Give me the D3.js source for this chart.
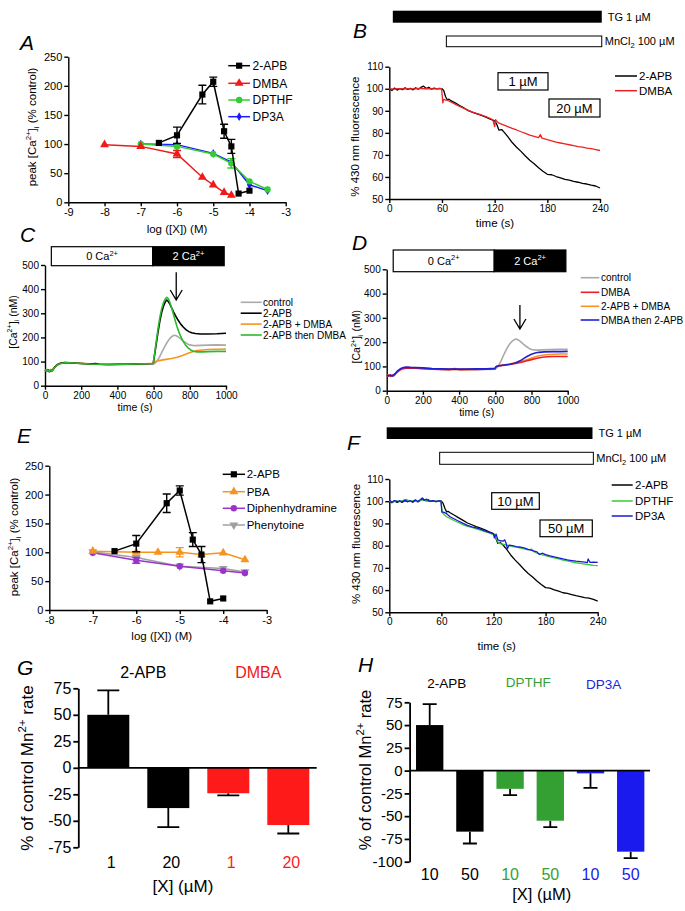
<!DOCTYPE html>
<html><head><meta charset="utf-8">
<script src="https://cdn.jsdelivr.net/npm/d3@7"></script>
<style>body{margin:0;background:#fff}svg{display:block;font-family:"Liberation Sans",Arial,sans-serif}</style>
</head><body><svg id="fig" width="685" height="911"></svg>
<script>
// ---------------- DATA ----------------
// Panel A: [log conc, peak %, sem]
const A_2APB  = [[-6.5,102,0],[-6,115,14],[-5.3,185,16],[-5,207,8],[-4.7,122,12],[-4.5,96,12],[-4.3,15,0],[-4,20,0]];
const A_DMBA  = [[-8,99,0],[-7,96,0],[-6,83,6],[-5.3,43,0],[-5,30,0],[-4.7,17,0],[-4.5,12,0]];
const A_DPTHF = [[-7,100,0],[-6,96,0],[-5,83,0],[-4.5,67,8],[-4,36,0],[-3.5,22,0]];
const A_DP3A  = [[-7,100,0],[-6,99,0],[-5,84,0],[-4.5,69,0],[-4,30,0],[-3.5,20,0]];
const A_xTicks = [-9,-8,-7,-6,-5,-4,-3];
const A_yTicks = [0,50,100,150,200,250];
const A_names = ['2-APB','DMBA','DPTHF','DP3A'];

// Panel E
const E_2APB = [[-6.5,102,0],[-6,115,14],[-5.3,185,16],[-5,207,8],[-4.7,122,12],[-4.5,96,14],[-4.3,15,0],[-4,20,0]];
const E_PBA  = [[-7,102,0],[-6,100,0],[-5.5,100,0],[-5,100,8],[-4.5,96,0],[-4,99,0],[-3.5,87,0]];
const E_DIPH = [[-7,99,0],[-6,86,5],[-5,76,0],[-4,68,0],[-3.5,64,0]];
const E_PHEN = [[-7,101,0],[-6,91,0],[-5,76,0],[-4,72,0],[-3.5,66,0]];
const E_xTicks = [-8,-7,-6,-5,-4,-3];
const E_yTicks = [0,50,100,150,200,250];
const E_names = ['2-APB','PBA','Diphenhydramine','Phenytoine'];

// Panel B / F : [time s, % 430 nm fluorescence]
const B_2APB = [[0,100],[3,99.2],[6,100.3],[9,99.4],[12,100.1],[15,99.6],[18,100.4],[21,99.7],[24,100.2],[27,99.5],[30,100.4],[33,99.8],[36,100.6],[39,101.2],[42,100.1],[45,100.7],[48,99.8],[51,100.3],[54,99.9],[57,100.2],[60,100],[62,99.2],[64,96.5],[66,95],[68,95.3],[70,94.6],[75,93.6],[80,92.4],[85,91.3],[90,90.1],[95,89.3],[100,88.6],[105,87.9],[110,87.1],[115,86.2],[120,85.4],[122,84.2],[125,81.2],[128,81.5],[131,80.2],[135,78.3],[140,75.6],[145,73.5],[150,71.6],[155,69.5],[160,67.6],[165,66],[170,64.2],[175,62.6],[180,61.2],[185,61],[190,60.2],[195,59.6],[200,58.9],[205,58.6],[210,58],[215,57.6],[220,57.1],[225,56.8],[230,56.3],[235,55.9],[240,55]];
const B_DMBA = [[0,100],[5,99.8],[10,100.1],[15,99.9],[20,100.1],[25,99.9],[30,100],[35,100.2],[40,100],[45,100.1],[50,99.9],[55,100],[59.5,100],[60,98],[61,93.6],[62,95.2],[64,94.9],[66,94.8],[70,94],[75,93],[80,92],[85,91.1],[90,90.2],[95,89.4],[100,88.7],[105,88.1],[110,87.4],[115,86.5],[118,85.9],[119,84.2],[120,82.8],[121,86],[123,85],[125,84.4],[130,83.6],[135,82.8],[140,82],[145,81.3],[150,80.5],[155,79.8],[160,79],[165,78.4],[170,77.8],[172,79.2],[174,77.6],[180,76.9],[185,76.4],[190,75.8],[195,75.4],[200,75],[205,74.6],[210,74.2],[215,73.8],[220,73.5],[225,73.1],[230,72.8],[235,72.4],[240,72]];
const F_2APB = [[0,100.2],[3,99.3],[6,100.2],[9,99.5],[12,100],[15,99.5],[18,100.3],[21,99.8],[24,100.1],[27,99.6],[30,100.3],[33,99.7],[36,100.5],[39,101],[42,100.2],[45,100.6],[48,99.9],[51,100.2],[54,99.8],[57,100.1],[60,100],[62,99],[64,96.8],[66,95.2],[68,95.4],[70,94.8],[75,93.7],[80,92.5],[85,91.4],[90,90.2],[95,89.4],[100,88.6],[105,87.9],[110,87.1],[115,86.2],[120,85.4],[122,84],[125,81],[128,81.3],[131,80.3],[135,78.4],[140,75.7],[145,73.5],[150,71.5],[155,69.4],[160,67.5],[165,65.9],[170,64.1],[175,62.5],[180,61.1],[185,60.9],[190,60.1],[195,59.5],[200,58.8],[205,58.5],[210,58],[215,57.5],[220,57.1],[225,56.6],[230,56.4],[235,55.8],[240,55]];
const F_DPTHF = [[0,100],[4,99.6],[8,100.2],[12,99.8],[16,100.4],[20,100.8],[24,99.9],[28,100.3],[32,99.8],[36,100.4],[40,100.6],[44,100],[48,100.3],[52,99.9],[56,100.2],[59.5,100],[61,95],[63,94],[66,93],[70,92.2],[75,91.2],[80,90.3],[85,89.4],[90,88.7],[95,88.2],[100,87.6],[105,87],[110,86.3],[115,85.7],[120,85],[122,84],[124,82.5],[126,81],[130,80.7],[134,80.4],[138,80],[142,79.6],[146,79.4],[150,79],[155,78.6],[160,78.1],[164,78.4],[166,77.4],[170,76.6],[175,76],[180,75.5],[185,75],[190,74.5],[195,74],[200,73.5],[205,73.1],[210,72.7],[215,72.3],[220,72],[225,71.7],[230,71.4],[235,71.1],[240,71]];
const F_DP3A = [[0,100.5],[3,99.5],[6,100.3],[9,99.8],[12,100.2],[15,99.6],[18,100.5],[21,99.8],[24,100.2],[27,99.7],[30,100.6],[33,99.9],[36,100.8],[38,101.5],[40,100.4],[43,100.9],[46,99.9],[50,100.3],[54,99.8],[57,100.1],[59.5,100],[60.5,95.2],[63,95],[66,94.4],[70,93],[75,92],[80,91],[85,90],[90,89.1],[95,88.5],[100,88],[105,87.4],[110,86.6],[115,86],[120,85.3],[121,83.5],[123,85.2],[125,82.6],[128,82.2],[131,82],[133,82.6],[135,80.5],[136,78.6],[138,80.2],[142,80],[146,79.6],[150,79.4],[155,79],[160,78.3],[165,77.8],[170,77.2],[173,76],[176,76.6],[180,76],[185,75.4],[190,74.9],[195,74.5],[200,74],[205,73.6],[210,73.3],[215,73],[220,72.8],[225,72.6],[228,72.4],[229,74],[231,72.5],[235,72.6],[240,72.5]];
const BF_xTicks = [0,60,120,180,240];
const BF_yTicks = [50,60,70,80,90,100,110];
const B_names = ['2-APB','DMBA'];
const F_names = ['2-APB','DPTHF','DP3A'];
const B_boxes = ['1 \u00b5M','20 \u00b5M'];
const F_boxes = ['10 \u00b5M','50 \u00b5M'];
const TG_span = [4,242];       // time (s)
const Mn_span_B = [65,242];
const TG_span_F = [-3,234];
const Mn_span_F = [58,235];

// Panels C / D : [time s, [Ca2+]i nM]
const C_control = [[0,62],[8,66],[16,60],[24,64],[32,58],[40,66],[50,72],[60,80],[75,88],[90,92],[110,94],[130,94],[160,93],[200,92],[250,90],[300,88],[350,87],[400,87],[450,88],[500,88],[550,89],[600,90],[615,98],[630,115],[645,138],[660,160],[675,180],[690,196],[705,206],[715,209],[725,207],[740,200],[755,191],[770,182],[785,174],[800,169],[815,167],[830,166],[860,167],[900,168],[950,169],[1000,168]];
const C_2APB = [[0,64],[8,60],[16,67],[24,58],[32,65],[40,62],[50,73],[60,82],[75,90],[90,94],[110,96],[130,95],[160,94],[200,92],[250,90],[280,92],[300,89],[350,88],[400,89],[450,89],[500,90],[550,91],[598,92],[606,130],[615,175],[625,225],[635,270],[645,305],[655,330],[665,348],[672,355],[680,350],[690,338],[700,322],[710,306],[720,291],[735,272],[750,255],[765,242],[780,231],[795,224],[810,219],[830,216],[860,214],[900,214],[950,215],[1000,217]];
const C_2APBplusDMBA = [[0,63],[10,61],[20,66],[30,60],[40,65],[50,74],[60,83],[75,90],[90,95],[110,96],[130,96],[160,94],[200,93],[250,91],[300,89],[350,89],[400,89],[450,89],[500,90],[550,91],[598,93],[610,100],[630,104],[660,108],[700,113],[730,118],[760,125],[790,134],[815,141],[840,146],[870,148],[900,150],[950,151],[1000,152]];
const C_2APBthenDMBA = [[0,65],[8,59],[16,66],[24,58],[32,67],[40,61],[50,72],[60,81],[75,89],[90,93],[110,95],[130,95],[160,94],[200,92],[250,90],[300,89],[350,88],[400,88],[450,89],[500,90],[550,91],[598,92],[606,135],[615,185],[625,240],[635,285],[645,320],[655,345],[665,360],[673,366],[680,362],[690,345],[700,322],[710,295],[720,268],[730,243],[740,222],[750,204],[760,188],[775,170],[790,157],[805,148],[820,143],[840,140],[870,140],[900,141],[950,142],[1000,142]];
const D_control = [[0,63],[10,66],[20,61],[30,65],[40,64],[50,71],[60,79],[75,87],[90,92],[110,94],[130,94],[160,93],[200,92],[250,90],[300,88],[350,87],[400,86],[450,87],[500,87],[550,88],[600,89],[615,100],[630,120],[645,145],[660,168],[675,188],[690,202],[705,210],[715,213],[725,210],[740,202],[755,192],[770,183],[785,175],[800,170],[815,168],[830,167],[860,168],[900,169],[950,170],[1000,170]];
const D_DMBA = [[0,60],[10,64],[20,59],[30,63],[40,62],[50,70],[60,78],[75,86],[90,91],[110,93],[130,94],[160,93],[200,91],[250,89],[300,88],[350,87],[375,91],[400,87],[450,88],[500,88],[550,89],[598,90],[605,99],[620,102],[650,105],[680,108],[710,112],[740,116],[770,122],[800,128],[830,134],[860,138],[890,140],[920,141],[960,141],[1000,141]];
const D_2APBplusDMBA = [[0,62],[10,60],[20,64],[30,61],[40,63],[50,71],[60,80],[75,88],[90,93],[110,95],[130,95],[160,94],[200,92],[250,90],[300,89],[350,88],[400,88],[450,88],[500,89],[550,90],[598,91],[610,102],[640,106],[670,109],[700,113],[730,118],[760,124],[790,132],[820,140],[850,145],[880,148],[920,150],[960,151],[1000,151]];
const D_DMBAthen2APB = [[0,64],[10,61],[20,65],[30,60],[40,66],[50,73],[60,82],[75,90],[90,95],[110,97],[130,96],[160,95],[200,94],[250,91],[300,90],[350,89],[400,89],[450,89],[500,90],[550,90],[598,92],[605,100],[620,103],[650,106],[680,109],[710,114],[740,124],[760,134],[780,143],[800,150],[820,155],[840,158],[870,160],[920,161],[960,161],[1000,162]];
const CD_xTicks = [0,200,400,600,800,1000];
const CD_yTicks = [0,100,200,300,400,500];
const C_names = ['control','2-APB','2-APB + DMBA','2-APB then DMBA'];
const D_names = ['control','DMBA','2-APB + DMBA','DMBA then 2-APB'];
const C_bath = [[35,595],[595,990]];   // time spans of 0 Ca / 2 Ca
const D_bath = [[36,594],[594,990]];
const C_arrow = [725,470,355];         // time, from, to (nM)
const D_arrow = [736,353,254];

// Panels G / H
const G_cats = ['1','20','1','20'];
const G_vals = [50,-38,-24,-54];
const G_errs = [23,18,2,8];
const G_groups = ['2-APB','DMBA'];
const G_yTicks = [-75,-50,-25,0,25,50,75];
const H_cats = ['10','50','10','50','10','50'];
const H_vals = [50,-67,-20,-55,-3,-89];
const H_errs = [23,13,7,7,16,7];
const H_groups = ['2-APB','DPTHF','DP3A'];
const H_yTicks = [-100,-75,-50,-25,0,25,50,75];

// ---------------- DRAWING ----------------
const FONT = '"Liberation Sans", Arial, sans-serif';
const svg = d3.select('#fig');
svg.append('rect').attr('width',685).attr('height',911).attr('fill','#fff');

function rich(g, x, y, parts, o) {
  const fs = o.fs;
  const t = g.append('text').attr('x',x).attr('y',y).attr('font-size',fs)
    .attr('font-family',FONT).attr('text-anchor',o.anchor||'start').attr('fill',o.fill||'#000');
  if (o.rotate) t.attr('transform',`rotate(-90,${x},${y})`);
  let shift = 0;
  parts.forEach(p => {
    const s = typeof p === 'string' ? {t:p} : p;
    const target = s.sup ? -0.42*fs : s.sub ? 0.28*fs : 0;
    const ts = t.append('tspan').attr('dy', target - shift).text(s.t);
    if (s.sup || s.sub) ts.attr('font-size', fs*0.68);
    shift = target;
  });
  return t;
}
function styleAxis(a, fs) {
  a.select('.domain').attr('stroke','#000').attr('stroke-width',1.4);
  a.selectAll('.tick line').attr('stroke','#000').attr('stroke-width',1.4);
  a.selectAll('.tick text').attr('fill','#000').attr('font-size',fs).attr('font-family',FONT);
}
function axes(g, x, y, xt, yt, fs) {
  const fmt = d => String(d);
  const ax = g.append('g').attr('transform',`translate(0,${y.range()[0]})`)
    .call(d3.axisBottom(x).tickValues(xt).tickSize(4).tickSizeOuter(0).tickPadding(2).tickFormat(fmt));
  styleAxis(ax, fs);
  const ay = g.append('g').attr('transform',`translate(${x.range()[0]},0)`)
    .call(d3.axisLeft(y).tickValues(yt).tickSize(4).tickSizeOuter(0).tickPadding(2).tickFormat(fmt));
  styleAxis(ay, fs);
}
function letter(x, y, L) {
  svg.append('text').attr('x',x).attr('y',y).attr('font-size',21).attr('font-style','italic')
    .attr('font-family',FONT).text(L);
}
const symTri = d3.symbol().type(d3.symbolTriangle);
function marker(g, type, cx, cy, color) {
  let path, rot = 0;
  if (type==='square') path = d3.symbol().type(d3.symbolSquare).size(38)();
  else if (type==='triangle') path = d3.symbol().type(d3.symbolTriangle).size(34)();
  else if (type==='tridown') { path = d3.symbol().type(d3.symbolTriangle).size(34)(); rot = 180; }
  else if (type==='circle') path = d3.symbol().type(d3.symbolCircle).size(32)();
  else path = d3.symbol().type(d3.symbolDiamond).size(22)();
  g.append('path').attr('d',path).attr('fill',color)
    .attr('transform',`translate(${cx},${cy}) rotate(${rot})`);
}
function doseSeries(g, x, y, data, color, type) {
  g.append('path').datum(data).attr('fill','none').attr('stroke',color).attr('stroke-width',1.5)
    .attr('d', d3.line().x(d=>x(d[0])).y(d=>y(d[1])));
  data.forEach(d => {
    if (d[2] > 0) {
      const cx = x(d[0]);
      g.append('path').attr('fill','none').attr('stroke',color).attr('stroke-width',1.4)
        .attr('d',`M${cx},${y(d[1]-d[2])}V${y(d[1]+d[2])}M${cx-4},${y(d[1]-d[2])}H${cx+4}M${cx-4},${y(d[1]+d[2])}H${cx+4}`);
    }
    marker(g, type, x(d[0]), y(d[1]), color);
  });
}
function doseLegend(g, x0, x1, xt, ys, names, colors, types, fs) {
  names.forEach((n,i) => {
    g.append('line').attr('x1',x0).attr('x2',x1).attr('y1',ys[i]).attr('y2',ys[i])
      .attr('stroke',colors[i]).attr('stroke-width',1.5);
    marker(g, types[i], (x0+x1)/2, ys[i], colors[i]);
    g.append('text').attr('x',xt).attr('y',ys[i]+fs*0.36).attr('font-size',fs).attr('font-family',FONT).text(n);
  });
}
function lineLegend(g, x0, x1, xt, ys, names, colors, fs, sw) {
  names.forEach((n,i) => {
    g.append('line').attr('x1',x0).attr('x2',x1).attr('y1',ys[i]).attr('y2',ys[i])
      .attr('stroke',colors[i]).attr('stroke-width',sw);
    g.append('text').attr('x',xt).attr('y',ys[i]+fs*0.36).attr('font-size',fs).attr('font-family',FONT).text(n);
  });
}
function trace(g, x, y, data, color, sw) {
  g.append('path').datum(data).attr('fill','none').attr('stroke',color).attr('stroke-width',sw)
    .attr('stroke-linejoin','round').attr('d', d3.line().x(d=>x(d[0])).y(d=>y(d[1])));
}
const peakLabel = ['peak [Ca',{t:'2+',sup:true},']',{t:'i',sub:true},' (% control)'];
const caLabel = ['[Ca',{t:'2+',sup:true},']',{t:'i',sub:true},' (nM)'];

// ===== Panel A =====
{
  const g = svg.append('g');
  const x = d3.scaleLinear([-9,-3],[68.3,285.7]);
  const y = d3.scaleLinear([0,250],[202.3,56.7]);
  axes(g, x, y, A_xTicks, A_yTicks, 11);
  const cols = ['#000','#f01a1a','#33cc33','#1a1aff'];
  const types = ['square','triangle','circle','diamond'];
  doseSeries(g, x, y, A_DP3A, cols[3], types[3]);
  doseSeries(g, x, y, A_DPTHF, cols[2], types[2]);
  doseSeries(g, x, y, A_DMBA, cols[1], types[1]);
  doseSeries(g, x, y, A_2APB, cols[0], types[0]);
  doseLegend(g, 228.3, 250, 252.5, [65.7,83.3,100,116.7], A_names, cols, types, 12);
  rich(g, 36, 127, peakLabel, {fs:11.5, anchor:'middle', rotate:true});
  rich(g, 177, 233, ['log ([X]) (M)'], {fs:11.5, anchor:'middle'});
  letter(20, 50, 'A');
}
// ===== Panel E =====
{
  const g = svg.append('g');
  const x = d3.scaleLinear([-8,-3],[49.3,266.7]);
  const y = d3.scaleLinear([0,250],[610,465.7]);
  axes(g, x, y, E_xTicks, E_yTicks, 11);
  const cols = ['#000','#f7941d','#9933cc','#a0a0a0'];
  const types = ['square','triangle','circle','tridown'];
  doseSeries(g, x, y, E_PHEN, cols[3], types[3]);
  doseSeries(g, x, y, E_DIPH, cols[2], types[2]);
  doseSeries(g, x, y, E_PBA, cols[1], types[1]);
  doseSeries(g, x, y, E_2APB, cols[0], types[0]);
  doseLegend(g, 222.7, 245, 246.7, [474.3,491.7,508.3,525], E_names, cols, types, 11.5);
  rich(g, 18, 537, peakLabel, {fs:11.5, anchor:'middle', rotate:true});
  rich(g, 161.7, 640, ['log ([X]) (M)'], {fs:11.5, anchor:'middle'});
  letter(17, 443, 'E');
}
// ===== Panels B and F =====
function mnPanel(cfg) {
  const g = svg.append('g');
  const x = d3.scaleLinear([0,240],cfg.xr);
  const y = d3.scaleLinear([50,110],cfg.yr);
  axes(g, x, y, BF_xTicks, BF_yTicks, 10);
  // TG and MnCl2 bars
  g.append('rect').attr('x',x(cfg.tg[0])).attr('width',x(cfg.tg[1])-x(cfg.tg[0]))
    .attr('y',cfg.tgY[0]).attr('height',cfg.tgY[1]-cfg.tgY[0]).attr('fill','#000');
  g.append('text').attr('x',x(cfg.tg[1])+6).attr('y',(cfg.tgY[0]+cfg.tgY[1])/2+4)
    .attr('font-size',11).attr('font-family',FONT).text('TG 1 \u00b5M');
  g.append('rect').attr('x',x(cfg.mn[0])).attr('width',x(cfg.mn[1])-x(cfg.mn[0]))
    .attr('y',cfg.mnY[0]).attr('height',cfg.mnY[1]-cfg.mnY[0]).attr('fill','#fff').attr('stroke','#000').attr('stroke-width',1);
  rich(g, x(cfg.mn[1])+3, (cfg.mnY[0]+cfg.mnY[1])/2+4, ['MnCl',{t:'2',sub:true},' 100 \u00b5M'], {fs:11});
  cfg.series.forEach((s,i) => trace(g, x, y, s, cfg.cols[i], 1.3));
  cfg.boxes.forEach((b,i) => {
    const r = cfg.boxR[i];
    g.append('rect').attr('x',r[0]).attr('y',r[1]).attr('width',r[2]-r[0]).attr('height',r[3]-r[1])
      .attr('fill','#fff').attr('stroke','#000').attr('stroke-width',1.2);
    g.append('text').attr('x',(r[0]+r[2])/2).attr('y',(r[1]+r[3])/2+4.5).attr('text-anchor','middle')
      .attr('font-size',13).attr('font-family',FONT).text(b);
  });
  lineLegend(g, cfg.leg[0], cfg.leg[1], cfg.leg[2], cfg.legY, cfg.names, cfg.cols, 11.5, 1.5);
  rich(g, cfg.ylab[0], cfg.ylab[1], ['% 430 nm fluorescence'], {fs:11.5, anchor:'middle', rotate:true});
  rich(g, cfg.xlab[0], cfg.xlab[1], ['time (s)'], {fs:11.5, anchor:'middle'});
}
mnPanel({xr:[389.3,600], yr:[199,66.7], tg:TG_span, tgY:[10.7,22.7], mn:Mn_span_B, mnY:[36,46.7],
  series:[B_2APB,B_DMBA], cols:['#000','#ee2222'], names:B_names, boxes:B_boxes,
  boxR:[[498,72.7,548,90],[549,99,600,117]], leg:[615,637,639], legY:[76,90.7],
  ylab:[359,136.7], xlab:[495,227]});
mnPanel({xr:[389.3,597.7], yr:[612.3,479], tg:TG_span_F, tgY:[427.3,439], mn:Mn_span_F, mnY:[452.3,464.3],
  series:[F_2APB,F_DPTHF,F_DP3A], cols:['#000','#33cc33','#1a1ad6'], names:F_names, boxes:F_boxes,
  boxR:[[491.7,492.7,539.3,509.3],[540,520,592.3,536.7]], leg:[611.7,632.7,635], legY:[485,501,516],
  ylab:[360,544], xlab:[496.7,650]});
letter(353, 38, 'B');
letter(347, 450, 'F');

// ===== Panels C and D =====
function caPanel(cfg) {
  const g = svg.append('g');
  const x = d3.scaleLinear([0,1000],cfg.xr);
  const y = d3.scaleLinear([0,500],cfg.yr);
  axes(g, x, y, CD_xTicks, CD_yTicks, 10);
  const [b0,b1] = cfg.bath;
  g.append('rect').attr('x',x(b0[0])).attr('width',x(b0[1])-x(b0[0])).attr('y',cfg.bathY[0])
    .attr('height',cfg.bathY[1]-cfg.bathY[0]).attr('fill','#fff').attr('stroke','#000').attr('stroke-width',1.2);
  g.append('rect').attr('x',x(b1[0])).attr('width',x(b1[1])-x(b1[0])).attr('y',cfg.bathY[0])
    .attr('height',cfg.bathY[1]-cfg.bathY[0]).attr('fill','#000').attr('stroke','#000').attr('stroke-width',1.2);
  const ty = (cfg.bathY[0]+cfg.bathY[1])/2+4;
  rich(g, (x(b0[0])+x(b0[1]))/2, ty, ['0 Ca',{t:'2+',sup:true}], {fs:11, anchor:'middle'});
  rich(g, (x(b1[0])+x(b1[1]))/2, ty, ['2 Ca',{t:'2+',sup:true}], {fs:11, anchor:'middle', fill:'#fff'});
  cfg.order.forEach(i => trace(g, x, y, cfg.series[i], cfg.cols[i], 1.6));
  const [at, af, ato] = cfg.arrow;
  const ax = x(at), ya = y(af), yb = y(ato);
  g.append('path').attr('fill','none').attr('stroke','#000').attr('stroke-width',1.3)
    .attr('d',`M${ax},${ya}V${yb}M${ax-6},${yb-10}L${ax},${yb}L${ax+6},${yb-10}`);
  lineLegend(g, cfg.leg[0], cfg.leg[1], cfg.leg[2], cfg.legY, cfg.names, cfg.cols, 10, 1.6);
  rich(g, cfg.ylab[0], cfg.ylab[1], caLabel, {fs:10.5, anchor:'middle', rotate:true});
  rich(g, cfg.xlab[0], cfg.xlab[1], ['time (s)'], {fs:10.5, anchor:'middle'});
}
caPanel({xr:[45,226], yr:[385.7,265], bath:C_bath, bathY:[246.7,265.7], arrow:C_arrow,
  series:[C_control,C_2APB,C_2APBplusDMBA,C_2APBthenDMBA], order:[0,2,1,3],
  cols:['#aaaaaa','#000','#f7941d','#2db82d'], names:C_names,
  leg:[240.7,261.7,263], legY:[302.3,313.2,324.1,335], ylab:[16.5,322], xlab:[135,411]});
caPanel({xr:[386.7,567.7], yr:[390.7,269.3], bath:D_bath, bathY:[250,271.7], arrow:D_arrow,
  series:[D_control,D_DMBA,D_2APBplusDMBA,D_DMBAthen2APB], order:[0,2,1,3],
  cols:['#aaaaaa','#e8202a','#f7941d','#1f1fd6'], names:D_names,
  leg:[580.7,599.3,601], legY:[277.7,292.3,306.3,320], ylab:[360,336.7], xlab:[476.7,416]});
letter(20, 242, 'C');
letter(352, 250, 'D');

// ===== Panels G and H =====
function barPanel(cfg) {
  const g = svg.append('g');
  const x = d3.scaleBand().domain(d3.range(cfg.vals.length)).range(cfg.xr)
    .paddingInner(cfg.pad).paddingOuter(cfg.pad/2);
  const y = d3.scaleLinear(cfg.ydom, cfg.yr);
  const ay = g.append('g').attr('transform',`translate(${cfg.xr[0]},0)`)
    .call(d3.axisLeft(y).tickValues(cfg.yticks).tickSize(5).tickSizeOuter(0).tickPadding(2).tickFormat(d=>String(d)));
  styleAxis(ay, cfg.fs);
  ay.select('.domain').attr('stroke-width',1.8);
  ay.selectAll('.tick line').attr('stroke-width',1.8);
  cfg.vals.forEach((v,i) => {
    const cx = x(i) + x.bandwidth()/2;
    const end = v + Math.sign(v)*cfg.errs[i];
    g.append('path').attr('fill','none').attr('stroke','#000').attr('stroke-width',1.8)
      .attr('d',`M${cx},${y(v)}V${y(end)}M${cx-cfg.cap/2},${y(end)}H${cx+cfg.cap/2}`);
    g.append('rect').attr('x',x(i)).attr('width',x.bandwidth())
      .attr('y',y(Math.max(0,v))).attr('height',Math.abs(y(v)-y(0))).attr('fill',cfg.colors[i]);
    g.append('text').attr('x',cx+cfg.catDx).attr('y',cfg.catY).attr('text-anchor','middle')
      .attr('font-size',cfg.catFs).attr('font-family',FONT).attr('fill',cfg.colors[i]).text(cfg.cats[i]);
  });
  g.append('line').attr('x1',cfg.xr[0]).attr('x2',cfg.zeroEnd).attr('y1',y(0)).attr('y2',y(0))
    .attr('stroke','#000').attr('stroke-width',1.8);
  cfg.groups.forEach((gl,j) => {
    const i0 = j*2, i1 = j*2+1;
    const cx = (x(i0)+x(i1)+x.bandwidth())/2 + cfg.grpDx[j];
    g.append('text').attr('x',cx).attr('y',cfg.grpY[j]).attr('text-anchor','middle')
      .attr('font-size',cfg.grpFs).attr('font-family',FONT).attr('fill',cfg.grpCols[j]).text(gl);
  });
  rich(g, cfg.ylab[0], cfg.ylab[1], ['% of control Mn',{t:'2+',sup:true},' rate'], {fs:cfg.labFs, anchor:'middle', rotate:true});
  rich(g, cfg.xlab[0], cfg.xlab[1], ['[X] (\u00b5M)'], {fs:cfg.labFs, anchor:'middle'});
}
barPanel({vals:G_vals, errs:G_errs, cats:G_cats, groups:G_groups, xr:[78.3,318.3], pad:0.3,
  ydom:[-75,75], yr:[847.3,688.3], yticks:G_yTicks, fs:16, cap:22, zeroEnd:316.7,
  colors:['#000','#000','#ff1a1a','#ff1a1a'], grpCols:['#000','#f01818'], grpDx:[5,0],
  catY:868, catDx:3, catFs:16, grpY:[678,678], grpFs:16, labFs:17, ylab:[33,768], xlab:[183,892]});
barPanel({vals:H_vals, errs:H_errs, cats:H_cats, groups:H_groups, xr:[409.6,650.8], pad:0.32,
  ydom:[-100,75], yr:[861.7,702.3], yticks:H_yTicks, fs:15, cap:14, zeroEnd:650,
  colors:['#000','#000','#34a034','#34a034','#1a1aee','#1a1aee'], grpCols:['#000','#34a034','#2424d8'],
  grpDx:[-3,-2,-7], catY:880, catDx:0, catFs:16, grpY:[688,686.5,689], grpFs:13.5, labFs:16.5,
  ylab:[371,770], xlab:[541.7,900]});
letter(17, 675, 'G');
letter(358, 672, 'H');
</script>
</body></html>
